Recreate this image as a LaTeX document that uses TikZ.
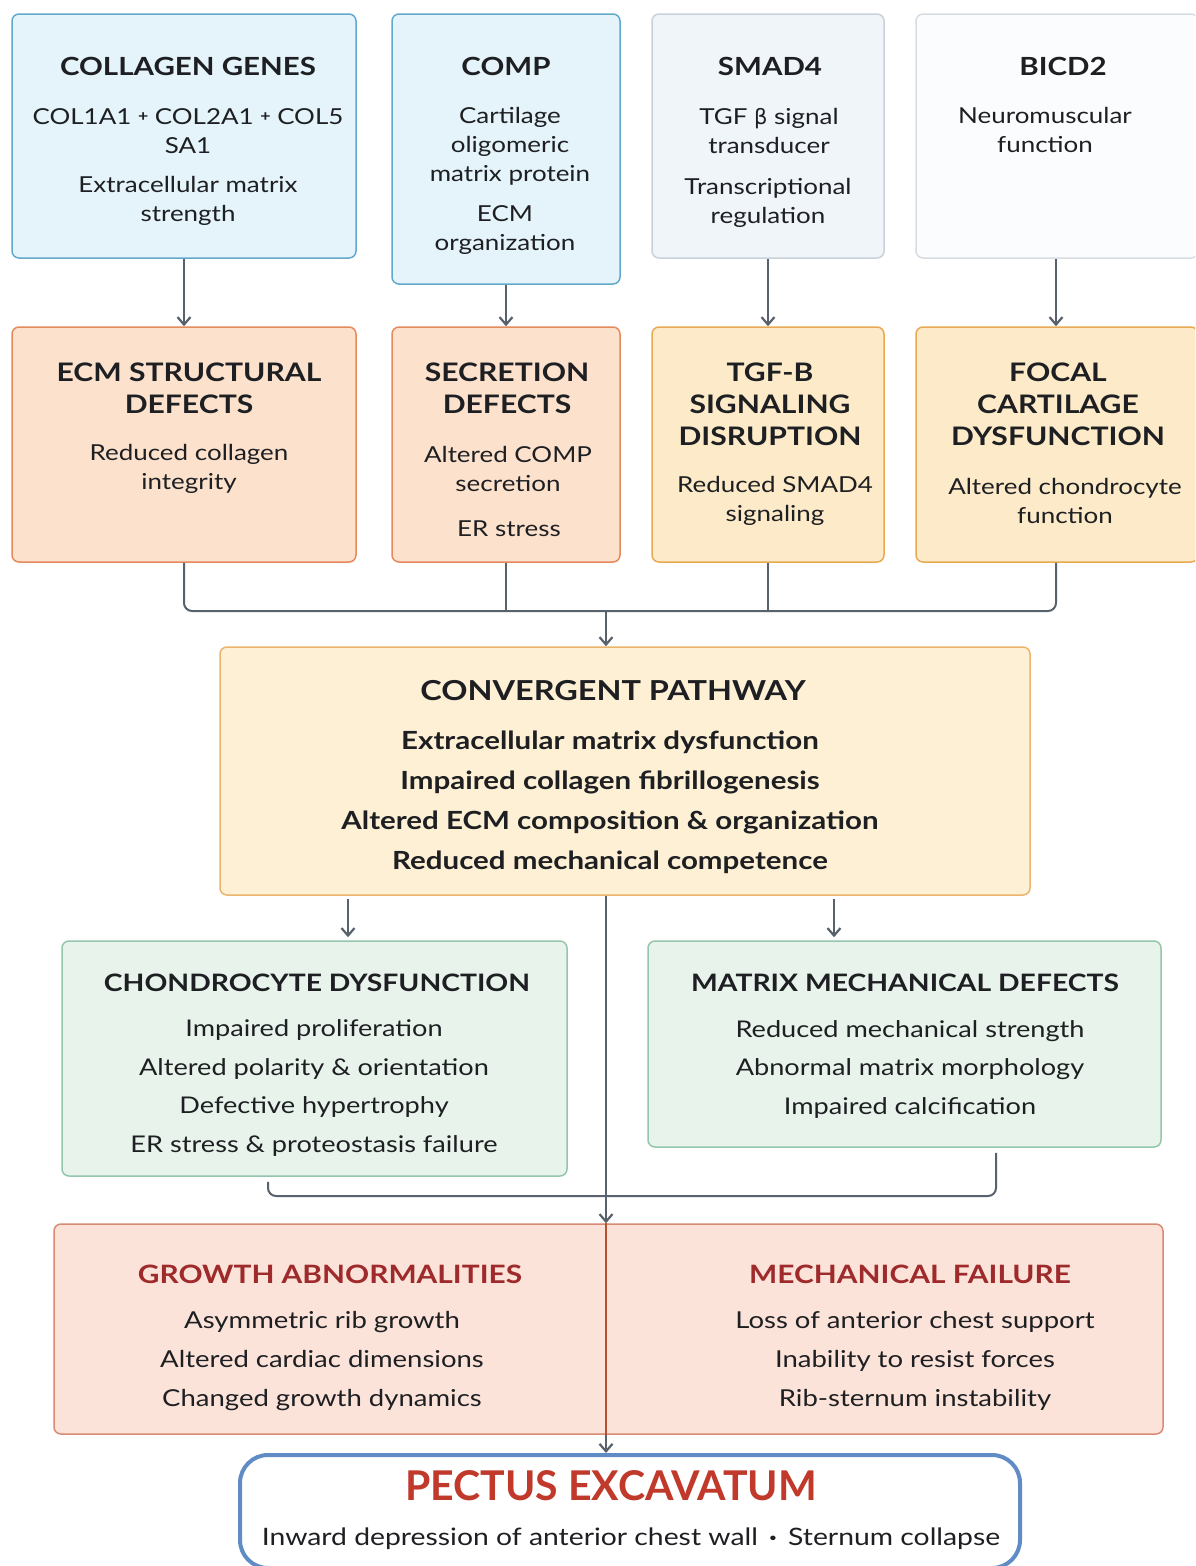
\documentclass[tikz,border=0pt]{standalone}
\usepackage{fontspec}
\setmainfont{Lato}[FakeStretch=1.18]
\newfontfamily\plainlato{Lato}
\newfontfamily\greekfont{DejaVu Sans}
\usetikzlibrary{arrows.meta,calc}
\definecolor{ink}{HTML}{1E1F22}
\definecolor{lncol}{HTML}{58626C}
\definecolor{blueF}{HTML}{E4F4FA}
\definecolor{blueD}{HTML}{62A9CC}
\definecolor{greyF}{HTML}{F0F5F9}
\definecolor{greyD}{HTML}{C9D2DA}
\definecolor{whiteF}{HTML}{FBFCFD}
\definecolor{whiteD}{HTML}{D8DDE2}
\definecolor{peachF}{HTML}{FCE2CD}
\definecolor{peachD}{HTML}{E58A5C}
\definecolor{yelF}{HTML}{FCEAC8}
\definecolor{yelD}{HTML}{E8A953}
\definecolor{convF}{HTML}{FDF0D4}
\definecolor{convD}{HTML}{EAB46C}
\definecolor{grnF}{HTML}{E8F3EC}
\definecolor{grnD}{HTML}{93C6AB}
\definecolor{redF}{HTML}{FBE3D9}
\definecolor{redD}{HTML}{D98A74}
\definecolor{divcol}{HTML}{B5502F}
\definecolor{redT}{HTML}{9E2A2B}
\definecolor{pecT}{HTML}{C0392B}
\definecolor{pecD}{HTML}{5F8CC4}
\newcommand\hA{\fontsize{25}{30}\selectfont\bfseries}
\newcommand\bA{\fontsize{22}{29}\selectfont}
\newcommand\hB{\fontsize{25.5}{32}\selectfont\bfseries}
\newcommand\hC{\fontsize{27.5}{32}\selectfont\bfseries}
\newcommand\bC{\fontsize{25}{40}\selectfont\bfseries}
\newcommand\hD{\fontsize{24}{30}\selectfont\bfseries}
\newcommand\bD{\fontsize{23}{38.5}\selectfont}
\newcommand\hE{\fontsize{25.3}{30}\selectfont\bfseries}
\newcommand\bE{\fontsize{23.3}{39}\selectfont}
\newcommand\hF{\plainlato\fontsize{41}{44}\selectfont\bfseries}
\newcommand\bF{\fontsize{24}{30}\selectfont}
\newcommand\smallplus{\raisebox{3pt}{\fontsize{15}{29}\selectfont\bfseries +}}
\begin{document}
\begin{tikzpicture}[x=1pt,y=-1pt,
  box/.style={draw, rounded corners=7pt, line width=1.5pt, inner sep=0pt},
  txt/.style={text=ink, align=center, inner sep=0pt},
  ln/.style={draw=lncol, line width=2pt},
  arr/.style={ln, -{Straight Barb[length=7.5pt,width=13pt,line width=2.2pt]}},
  divider/.style={draw=divcol, line width=1.8pt}]
\useasboundingbox (0,0) rectangle (1195,1566);
\fill[white] (0,0) rectangle (1195,1566);
\begin{scope}
\clip (0,0) rectangle (1195,1566);
% top row
\node[box, fill=blueF, draw=blueD, minimum width=344pt, minimum height=244pt] (g1) at (184,136) {};
\node[box, fill=blueF, draw=blueD, minimum width=228pt, minimum height=270pt] (g2) at (506,149) {};
\node[box, fill=greyF, draw=greyD, minimum width=232pt, minimum height=244pt] (g3) at (768,136) {};
\node[box, fill=whiteF, draw=whiteD, minimum width=282pt, minimum height=244pt] (g4) at (1057,136) {};
% second row
\node[box, fill=peachF, draw=peachD, minimum width=344pt, minimum height=235pt] (d1) at (184,444.5) {};
\node[box, fill=peachF, draw=peachD, minimum width=228pt, minimum height=235pt] (d2) at (506,444.5) {};
\node[box, fill=yelF, draw=yelD, minimum width=232pt, minimum height=235pt] (d3) at (768,444.5) {};
\node[box, fill=yelF, draw=yelD, minimum width=282pt, minimum height=235pt] (d4) at (1057,444.5) {};
% convergent
\node[box, fill=convF, draw=convD, minimum width=810pt, minimum height=248pt] (cv) at (625,771) {};
% green
\node[box, fill=grnF, draw=grnD, minimum width=505pt, minimum height=235pt] (ch) at (314.5,1058.5) {};
\node[box, fill=grnF, draw=grnD, minimum width=513pt, minimum height=206pt] (mm) at (904.5,1044) {};
% red
\node[box, fill=redF, draw=redD, minimum width=1109pt, minimum height=210pt] (rb) at (608.5,1329) {};
% pectus
\node[draw=pecD, fill=white, line width=4pt, rounded corners=28pt, minimum width=780pt, minimum height=113pt, inner sep=0pt] (pe) at (630,1511.5) {};

% texts top row
\node[txt, font=\hA] (t1) at (188,66) {COLLAGEN GENES};
\node[txt, font=\bA] (t1b) at (188,131) {COL1A1 \smallplus\ COL2A1 \smallplus\ COL5\\SA1};
\node[txt, font=\bA] (t1c) at (188,201) {Extracellular matrix\\strength};
\node[txt, font=\hA] (t2) at (506,66) {COMP};
\node[txt, font=\bA] (t2b) at (510,146) {Cartilage\\oligomeric\\matrix protein};
\node[txt, font=\bA] (t2c) at (505,230) {ECM\\organization};
\node[txt, font=\hA] (t3) at (770,66) {SMAD4};
\node[txt, font=\bA] (t3b) at (769,131) {TGF {\greekfont\fontsize{21}{29}\selectfont β} signal\\transducer};
\node[txt, font=\bA] (t3c) at (768,203) {Transcriptional\\regulation};
\node[txt, font=\hA] (t4) at (1063,66) {BICD2};
\node[txt, font=\bA] (t4b) at (1045,130) {Neuromuscular\\function};

% texts second row
\node[txt, font=\hB] (u1) at (189,388) {ECM STRUCTURAL\\DEFECTS};
\node[txt, font=\bA] (u1b) at (189,469) {Reduced collagen\\integrity};
\node[txt, font=\hB] (u2) at (507,388) {SECRETION\\DEFECTS};
\node[txt, font=\bA] (u2b) at (508,469) {Altered COMP\\secretion};
\node[txt, font=\bA] (u2c) at (509,529) {ER stress};
\node[txt, font=\hB] (u3) at (770,404) {TGF-B\\SIGNALING\\DISRUPTION};
\node[txt, font=\bA] (u3b) at (775,501) {Reduced SMAD4\\signaling};
\node[txt, font=\hB] (u4) at (1058,404) {FOCAL\\CARTILAGE\\DYSFUNCTION};
\node[txt, font=\bA] (u4b) at (1065,501) {Altered chondrocyte\\function};

% convergent texts
\node[txt, font=\hC] (v1) at (613,691) {CONVERGENT PATHWAY};
\node[txt, font=\bC] (v2) at (610,802) {Extracellular matrix dysfunction\\Impaired collagen fibrillogenesis\\Altered ECM composition \& organization\\Reduced mechanical competence};

% green texts
\node[txt, font=\hD] (w1) at (317,983) {CHONDROCYTE DYSFUNCTION};
\node[txt, font=\bD] (w1b) at (314,1088) {Impaired proliferation\\Altered polarity \& orientation\\Defective hypertrophy\\ER stress \& proteostasis failure};
\node[txt, font=\hD] (w2) at (905,983) {MATRIX MECHANICAL DEFECTS};
\node[txt, font=\bD] (w2b) at (910,1069) {Reduced mechanical strength\\Abnormal matrix morphology\\Impaired calcification};

% red texts
\node[txt, font=\hE, text=redT] (x1) at (330,1274) {GROWTH ABNORMALITIES};
\node[txt, font=\bE] (x1b) at (322,1361) {Asymmetric rib growth\\Altered cardiac dimensions\\Changed growth dynamics};
\node[txt, font=\hE, text=redT] (x2) at (910,1274) {MECHANICAL FAILURE};
\node[txt, font=\bE] (x2b) at (915,1361) {Loss of anterior chest support\\Inability to resist forces\\Rib-sternum instability};

% pectus texts
\node[txt, font=\hF, text=pecT] (p1) at (611,1486) {PECTUS EXCAVATUM};
\node[txt, font=\bF] (p2) at (631,1539) {Inward depression of anterior chest wall \,{\bfseries ·}\, Sternum collapse};

% connectors
\draw[arr] (g1.south) -- (d1.north);
\draw[arr] (g2.south) -- (d2.north);
\draw[arr] (g3.south) -- (d3.north);
\draw[arr] (g4.south -| 1056,0) -- (d4.north -| 1056,0);

\coordinate (jn) at (606,611);
\draw[ln, rounded corners=8pt] (d1.south) |- (jn);
\draw[ln, rounded corners=8pt] (d4.south -| 1056,0) |- (jn);
\draw[ln] (d2.south) -- (d2.south |- jn);
\draw[ln] (d3.south) -- (d3.south |- jn);
\draw[arr] (jn) -- (cv.north -| jn);

\coordinate (a1) at (348,0);
\coordinate (a2) at (834,0);
\coordinate (cx) at (606,0);
\draw[arr] ([yshift=-3pt]cv.south -| a1) -- ([yshift=3pt]ch.north -| a1);
\draw[arr] ([yshift=-3pt]cv.south -| a2) -- ([yshift=3pt]mm.north -| a2);
\draw[arr] (cv.south -| cx) -- (rb.north -| cx);

\coordinate (bl) at (268,1196);
\coordinate (br) at (996,1196);
\draw[ln, rounded corners=8pt] ([yshift=-5pt]ch.south -| bl) -- (bl) -- (br) -- ([yshift=-5pt]mm.south -| br);

\draw[divider] (rb.north -| cx) -- (rb.south -| cx);
\draw[arr] (rb.south -| cx) -- (pe.north -| cx);
\end{scope}
\end{tikzpicture}
\end{document}
